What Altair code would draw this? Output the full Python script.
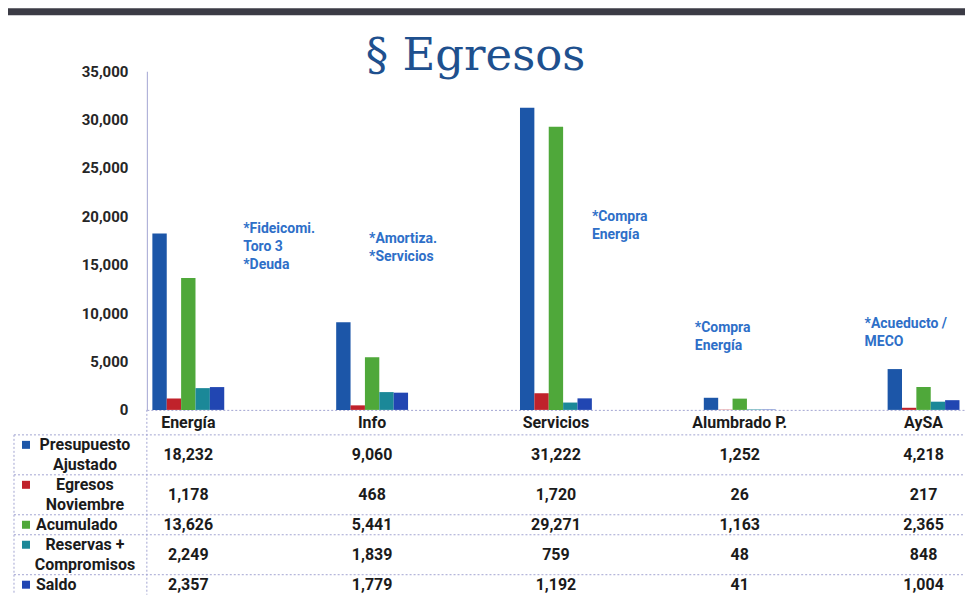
import altair as alt
import pandas as pd

# ---------------- data ----------------
categories = ["Energía", "Info", "Servicios", "Alumbrado P.", "AySA"]
series = ["Presupuesto Ajustado", "Egresos Noviembre", "Acumulado",
          "Reservas + Compromisos", "Saldo"]
row_labels = ["Presupuesto\nAjustado", "Egresos\nNoviembre", "Acumulado",
              "Reservas +\nCompromisos", "Saldo"]
presupuesto = [18232, 9060, 31222, 1252, 4218]
egresos_nov = [1178, 468, 1720, 26, 217]
acumulado = [13626, 5441, 29271, 1163, 2365]
reservas = [2249, 1839, 759, 48, 848]
saldo = [2357, 1779, 1192, 41, 1004]
colors = ["#1C56A8", "#C0222B", "#4FA83A", "#1B8898", "#2146B2"]
y_ticks = [0, 5000, 10000, 15000, 20000, 25000, 30000, 35000]
title_text = "§ Egresos"
# annotations: category, text, value level of the first line's top
note_cats = ["Energía", "Info", "Servicios", "Alumbrado P.", "AySA"]
note_texts = ["*Fideicomi.\nToro 3\n*Deuda", "*Amortiza.\n*Servicios",
              "*Compra\nEnergía", "*Compra\nEnergía", "*Acueducto /\nMECO"]
note_levels = [19400, 18400, 20650, 9200, 9600]
note_dx = [55, -3, 36, -45, -59]

# ---------------- layout constants ----------------
W = 819
H = 339
TABLE_TOP = H + 25
UNIT = 20
FONT = "Roboto"
LINE = "#A3A5D2"

values = [presupuesto, egresos_nov, acumulado, reservas, saldo]
long_rows = []
for s, vals in zip(series, values):
    for c, v in zip(categories, vals):
        long_rows.append({"category": c, "series": s, "value": v})
df_bars = pd.DataFrame(long_rows)

# table rows, heights derived from the number of label lines
line_counts = [lab.count("\n") + 1 for lab in row_labels]
starts = []
acc = 0
for n in line_counts:
    starts.append(acc)
    acc += n
total_lines = acc
df_rows = pd.DataFrame({
    "series": series,
    "label": row_labels,
    "lines": line_counts,
    "start": starts,
})
df_rows["center"] = df_rows["start"] + df_rows["lines"] / 2
df_rows["first"] = df_rows["start"] + 0.5
df_cells = df_bars.merge(df_rows[["series", "center"]], on="series")
df_bounds = pd.DataFrame({"b": starts})

x_scale = alt.Scale(domain=categories, paddingInner=0.609, paddingOuter=0.03)
y_scale = alt.Scale(domain=[0, 35000], nice=False)
t_scale = alt.Scale(domain=[0, total_lines], range=[TABLE_TOP, TABLE_TOP + total_lines * UNIT],
                    nice=False, zero=False)
c_scale = alt.Scale(domain=series, range=colors)

x_axis = alt.Axis(title=None, labelAngle=0, labelFont=FONT, labelFontWeight="bold",
                  labelFontSize=16, labelColor="#1b1b1b", ticks=False, tickSize=0,
                  labelPadding=5, domainColor=LINE, domainDash=[2, 2])
x_enc = alt.X("category:N", sort=categories, scale=x_scale, axis=x_axis)

bars = alt.Chart(df_bars).mark_bar().encode(
    x=x_enc,
    xOffset=alt.XOffset("series:N", sort=series, scale=alt.Scale(paddingInner=0, paddingOuter=0)),
    y=alt.Y("value:Q", scale=y_scale,
            axis=alt.Axis(values=y_ticks, labelExpr="format(datum.value, ',')", title=None,
                          labelFont=FONT, labelFontWeight="bold", labelFontSize=15,
                          labelColor="#262626", ticks=False, tickSize=0, labelPadding=19,
                          domainColor=LINE, grid=False)),
    color=alt.Color("series:N", scale=c_scale, legend=None),
)

cells = alt.Chart(df_cells).mark_text(font=FONT, fontSize=16, fontWeight="bold",
                                      color="#1b1b1b", baseline="middle").encode(
    x=x_enc,
    y=alt.Y("center:Q", scale=t_scale, axis=None),
    text=alt.Text("value:Q", format=","),
)

two_line = alt.Chart(df_rows).transform_filter("datum.lines > 1").mark_text(
    font=FONT, fontSize=16, fontWeight="bold", color="#1b1b1b", align="center",
    baseline="middle", lineBreak="\n", lineHeight=UNIT).encode(
    x=alt.value(-62),
    y=alt.Y("first:Q", scale=t_scale, axis=None),
    text="label:N",
)
one_line = alt.Chart(df_rows).transform_filter("datum.lines == 1").mark_text(
    font=FONT, fontSize=16, fontWeight="bold", color="#1b1b1b", align="left",
    baseline="middle").encode(
    x=alt.value(-111),
    y=alt.Y("center:Q", scale=t_scale, axis=None),
    text="label:N",
)
squares = alt.Chart(df_rows).mark_square(size=64, opacity=1).encode(
    x=alt.value(-121),
    y=alt.Y("first:Q", scale=t_scale, axis=None),
    color=alt.Color("series:N", scale=c_scale, legend=None),
)
hrules = alt.Chart(df_bounds).mark_rule(color=LINE, strokeDash=[2, 2], strokeWidth=1).encode(
    y=alt.Y("b:Q", scale=t_scale, axis=None),
    x=alt.value(-133),
    x2=alt.value(W),
)
one = pd.DataFrame({"k": [0]})
vrule_left = alt.Chart(one).mark_rule(color=LINE, strokeDash=[2, 2]).encode(
    x=alt.value(-133), y=alt.value(TABLE_TOP), y2=alt.value(TABLE_TOP + total_lines * UNIT))
vrule_div = alt.Chart(one).mark_rule(color=LINE, strokeDash=[2, 2]).encode(
    x=alt.value(0), y=alt.value(H), y2=alt.value(TABLE_TOP + total_lines * UNIT))

band = alt.Chart(one).mark_rect(color="#3B3B45").encode(
    x=alt.value(-139), x2=alt.value(W), y=alt.value(-63), y2=alt.value(-56))
title = alt.Chart(one).mark_text(text=title_text, font="DejaVu Serif", fontSize=45,
                                 color="#1E508E", align="center", baseline="alphabetic").encode(
    x=alt.value(329), y=alt.value(-1))

note_layers = []
for c, t, lv, dx in zip(note_cats, note_texts, note_levels, note_dx):
    d = pd.DataFrame({"category": [c], "text": [t], "level": [lv]})
    note_layers.append(
        alt.Chart(d).mark_text(font=FONT, fontSize=14, fontWeight="bold", color="#2E6FC8",
                               align="left", baseline="top", lineBreak="\n", lineHeight=18,
                               dx=dx).encode(
            x=x_enc,
            y=alt.Y("level:Q", scale=y_scale, axis=None),
            text="text:N",
        )
    )

chart = alt.layer(
    band, title, bars, *note_layers, hrules, vrule_left, vrule_div,
    squares, two_line, one_line, cells,
).resolve_scale(y="independent").properties(
    width=W, height=H, padding=0, background="white"
).configure_view(stroke=None)

chart.save("out.html", embed_options={"renderer": "svg", "actions": False})
